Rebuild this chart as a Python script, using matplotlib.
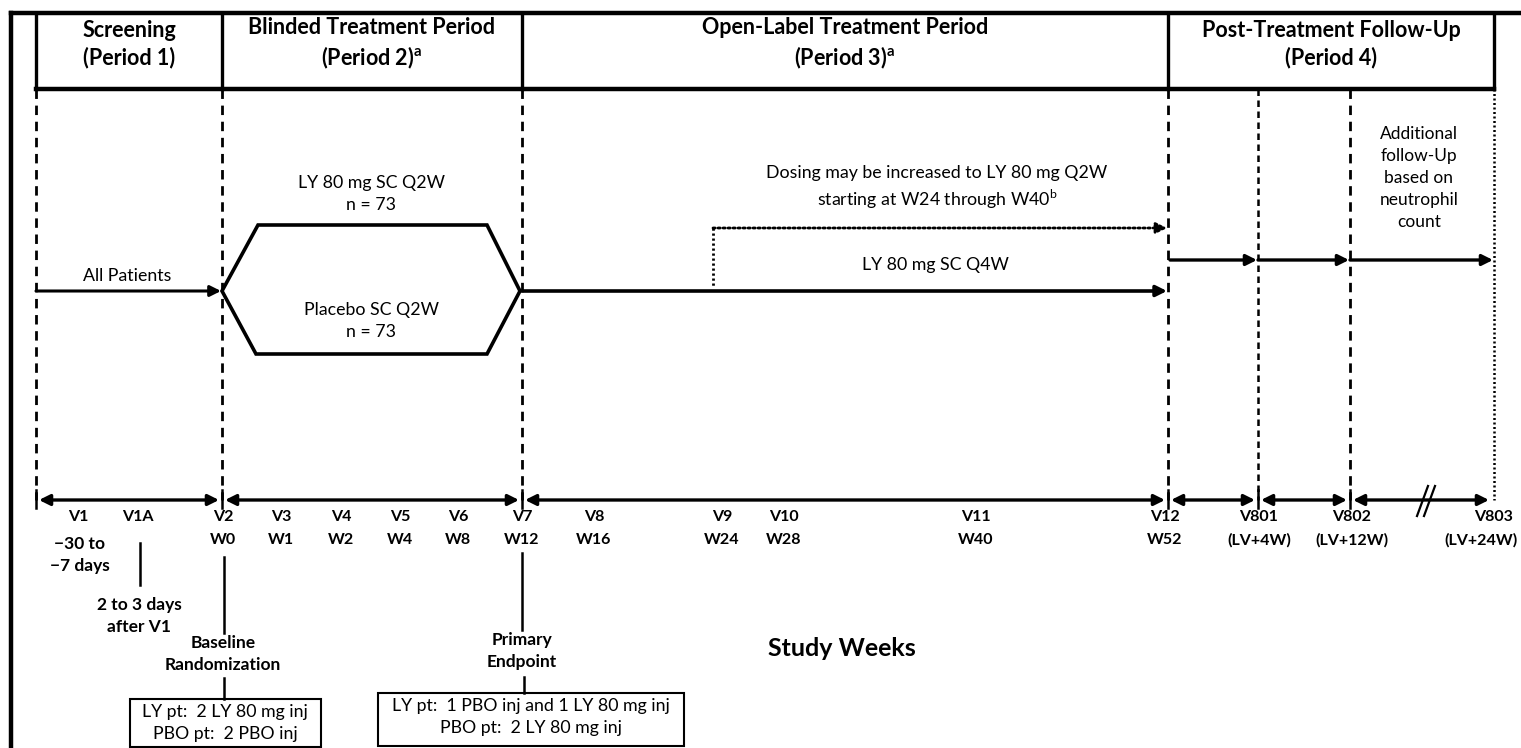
import matplotlib
matplotlib.use("Agg")
import matplotlib.pyplot as plt
from matplotlib.patches import Polygon, Rectangle

plt.rcParams['font.family'] = ['Lato', 'DejaVu Sans']

# header periods
periods = ["Screening\n(Period 1)",
           "Blinded Treatment Period\n(Period 2)$^\\mathregular{a}$",
           "Open-Label Treatment Period\n(Period 3)$^\\mathregular{a}$",
           "Post-Treatment Follow-Up\n(Period 4)"]
period_edges = [36, 222, 522, 1168, 1494]

# visits along the timeline
visit_labels = ["V1", "V1A", "V2", "V3", "V4", "V5", "V6", "V7", "V8", "V9",
                "V10", "V11", "V12", "V801", "V802", "V803"]
week_labels = ["", "", "W0", "W1", "W2", "W4", "W8", "W12", "W16", "W24",
               "W28", "W40", "W52", "(LV+4W)", "(LV+12W)", "(LV+24W)"]
visit_x = [78, 138, 223, 281, 341, 400, 458, 522, 594, 722,
           784, 976, 1165, 1259, 1352, 1494]

# boundaries of the timeline segments
boundaries = [36, 222, 522, 1168, 1258, 1350, 1492]

arms = ["LY 80 mg SC Q2W\nn = 73", "Placebo SC Q2W\nn = 73"]

fig = plt.figure(figsize=(15.21, 7.48), dpi=100)
ax = fig.add_axes([0, 0, 1, 1])
ax.set_xlim(0, 1521)
ax.set_ylim(748, 0)
ax.axis('off')

K = 'black'
REG = 12.8   # regular text size
LS = 1.42

# outer frame
ax.plot([11, 11], [13, 748], color=K, lw=3.2)
ax.plot([11, 1521], [13, 13], color=K, lw=3.2)

# header box
ax.plot([36, 1494], [89, 89], color=K, lw=3.2)
for x in period_edges:
    ax.plot([x, x], [13, 89], color=K, lw=2.4)
for i, txt in enumerate(periods):
    cx = (period_edges[i] + period_edges[i + 1]) / 2
    ax.text(cx, 44, txt, ha='center', va='center', fontsize=15.5,
            fontweight='bold', linespacing=1.3)

# dashed vertical lines
for x in [36, 222, 522, 1168, 1350]:
    ax.plot([x, x], [89, 500], color=K, lw=2.0, ls=(0, (3.4, 2.4)))
ax.plot([1258, 1258], [89, 500], color=K, lw=1.8, ls=(0, (2.6, 1.8)))
ax.plot([1494, 1494], [89, 500], color=K, lw=1.8, ls=(0, (0.8, 1.0)))

def arrow(x0, y0, x1, y1, style='-|>', lw=2.2, ls='-'):
    ax.annotate('', xy=(x1, y1), xytext=(x0, y0),
                arrowprops=dict(arrowstyle=style, color=K, lw=lw, ls=ls,
                                mutation_scale=16, shrinkA=0, shrinkB=0))

# screening arrow
arrow(36, 291, 221, 291)
ax.text(127, 276, "All Patients", ha='center', va='center', fontsize=REG)

# randomisation hexagon
hexagon = Polygon([(222, 291), (258, 225), (487, 225), (520, 291),
                   (487, 354), (256, 354)], closed=True, fill=False,
                  edgecolor=K, lw=2.6)
ax.add_patch(hexagon)
ax.text(371, 194, arms[0], ha='center', va='center', fontsize=REG,
        linespacing=LS)
ax.text(371, 321, arms[1], ha='center', va='center', fontsize=REG,
        linespacing=LS)

# open-label
arrow(522, 291, 1167, 291, lw=2.6)
ax.text(935, 265, "LY 80 mg SC Q4W", ha='center', va='center', fontsize=REG)
ax.plot([713, 713], [228, 286], color=K, lw=2.0, ls=(0, (0.8, 1.0)))
arrow(713, 228, 1167, 228, lw=2.0, ls=(0, (0.8, 1.0)))
ax.text(937, 188, "Dosing may be increased to LY 80 mg Q2W\n"
        "starting at W24 through W40$^\\mathregular{b}$",
        ha='center', va='center', fontsize=REG, linespacing=LS)

# follow-up arrows
for a, b in [(1170, 1257), (1258, 1349), (1350, 1493)]:
    arrow(a, 260, b, 260, lw=2.4)
ax.text(1419, 178, "Additional\nfollow-Up\nbased on\nneutrophil\ncount",
        ha='center', va='center', fontsize=12.5, linespacing=1.45)

# timeline
for a, b in zip(boundaries[:-1], boundaries[1:]):
    arrow(a + 3, 500, b - 3, 500, style='<|-|>', lw=2.4)
for x in boundaries[:-1]:
    ax.plot([x, x], [490, 508], color=K, lw=1.8)
ax.plot([1417, 1428], [516, 486], color=K, lw=1.6)
ax.plot([1424, 1435], [516, 486], color=K, lw=1.6)

for i, (lab, wk, x) in enumerate(zip(visit_labels, week_labels, visit_x)):
    ax.text(x, 517, lab, ha='center', va='center', fontsize=11.5,
            fontweight='bold')
    if wk:
        last = i == len(visit_labels) - 1
        ax.text(1518 if last else x, 540, wk,
                ha='right' if last else 'center', va='center',
                fontsize=11.5, fontweight='bold')

ax.text(80, 555, "\u221230 to\n\u22127 days", ha='center', va='center',
        fontsize=12.5, fontweight='bold', linespacing=LS)
ax.plot([139.5, 139.5], [543, 585], color=K, lw=1.8)
ax.text(139, 616, "2 to 3 days\nafter V1", ha='center', va='center',
        fontsize=12.5, fontweight='bold', linespacing=LS)

ax.plot([224, 224], [557, 633], color=K, lw=1.8)
ax.text(223, 654, "Baseline\nRandomization", ha='center', va='center',
        fontsize=12.5, fontweight='bold', linespacing=LS)
ax.plot([224, 224], [678, 699], color=K, lw=1.8)
ax.add_patch(Rectangle((130, 699), 191, 48, fill=False, edgecolor=K, lw=1.5))
ax.text(225, 723, "LY pt:  2 LY 80 mg inj\nPBO pt:  2 PBO inj",
        ha='center', va='center', fontsize=REG, linespacing=LS)

ax.plot([522, 522], [553, 630], color=K, lw=1.8)
ax.text(522, 651, "Primary\nEndpoint", ha='center', va='center',
        fontsize=12.5, fontweight='bold', linespacing=LS)
ax.plot([524, 524], [677, 693], color=K, lw=1.8)
ax.add_patch(Rectangle((378, 693), 306, 53, fill=False, edgecolor=K, lw=1.5))
ax.text(531, 717, "LY pt:  1 PBO inj and 1 LY 80 mg inj\nPBO pt:  2 LY 80 mg inj",
        ha='center', va='center', fontsize=REG, linespacing=LS)

ax.text(842, 648, "Study Weeks", ha='center', va='center', fontsize=18,
        fontweight='bold')

fig.savefig("out.png", dpi=100)
